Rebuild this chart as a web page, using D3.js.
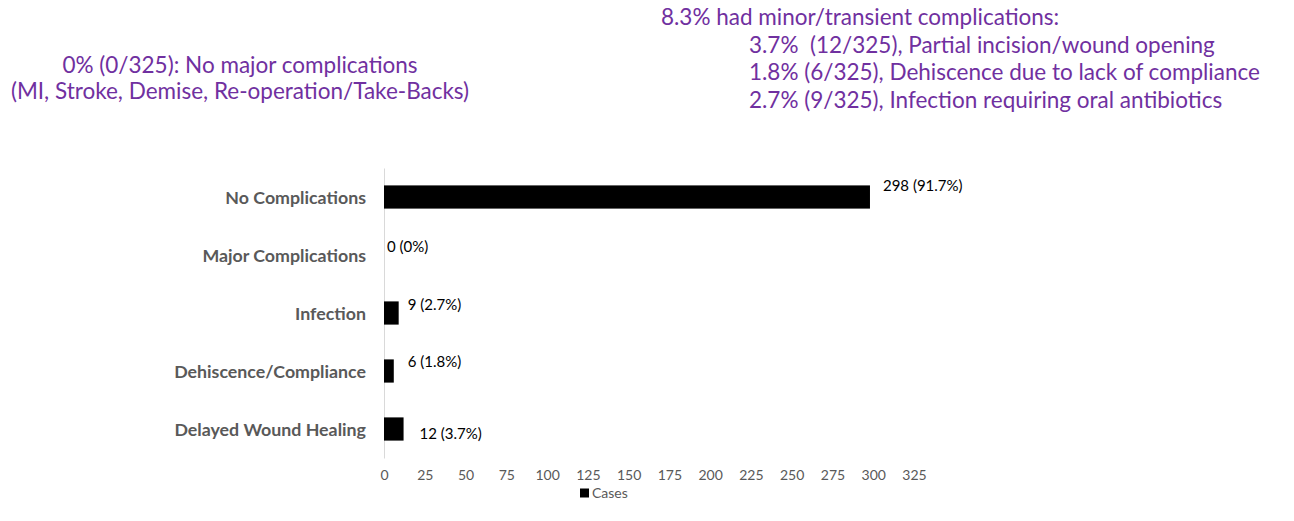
<!DOCTYPE html>
<html>
<head>
<meta charset="utf-8">
<script src="https://cdn.jsdelivr.net/npm/d3@7"></script>
<style>
  body { margin: 0; background: #fff; }
  svg { display: block; font-family: Lato, 'Open Sans', sans-serif; }
  svg text { font-family: Lato, 'Open Sans', sans-serif; }
  .note { fill: #7030a0; font-size: 22.5px; }
  .cat .tick text { fill: #595959; font-size: 17.8px; font-weight: bold; }
  .xax .tick text { fill: #595959; font-size: 14px; }
  .val { fill: #000; font-size: 15px; }
</style>
</head>
<body>
<div id="chart"></div>
<script>
var categories = ['No Complications', 'Major Complications', 'Infection', 'Dehiscence/Compliance', 'Delayed Wound Healing'];
var cases = [298, 0, 9, 6, 12];
var valueLabels = ['298 (91.7%)', '0 (0%)', '9 (2.7%)', '6 (1.8%)', '12 (3.7%)'];
var xTicks = [0, 25, 50, 75, 100, 125, 150, 175, 200, 225, 250, 275, 300, 325];
var leftNote = ['0% (0/325): No major complications', '(MI, Stroke, Demise, Re-operation/Take-Backs)'];
var rightNote = ['8.3% had minor/transient complications:',
    '3.7%  (12/325), Partial incision/wound opening',
    '1.8% (6/325), Dehiscence due to lack of compliance',
    '2.7% (9/325), Infection requiring oral antibiotics'];
var seriesName = 'Cases';

// label nudges as placed in the original (dx, dy from bar end / band centre)
var labelNudge = [[13, -11], [3, -8], [9, -8], [14, -9], [16, 5]];

var width = 1294, height = 521;

var svg = d3.select('#chart')
    .append('svg')
    .attr('width', width)
    .attr('height', height);

var x = d3.scaleLinear().domain([0, 325]).range([384, 914]);
var y = d3.scaleBand().domain(categories).range([168, 458])
    .paddingInner(0.6).paddingOuter(0.3);

// notes at the top
leftNote.forEach(function (t, i) {
    svg.append('text').attr('class', 'note')
        .attr('text-anchor', 'middle')
        .attr('x', 240).attr('y', 73 + i * 26)
        .text(t);
});

rightNote.forEach(function (t, i) {
    svg.append('text').attr('class', 'note')
        .attr('x', i === 0 ? 661 : 749)
        .attr('y', 25 + i * 27.7)
        .attr('xml:space', 'preserve')
        .style('white-space', 'pre')
        .text(t);
});

// category axis
var yAxis = d3.axisLeft(y).tickSize(0).tickPadding(18);
svg.append('g')
    .attr('class', 'cat')
    .attr('transform', 'translate(' + x(0) + ',0)')
    .call(yAxis)
    .call(function (g) { g.select('.domain').attr('stroke', '#d9d9d9'); })
    .selectAll('.tick text').attr('dy', '0.4em');

// value axis (labels only)
var xAxis = d3.axisBottom(x).tickValues(xTicks).tickSize(0).tickPadding(12);
svg.append('g')
    .attr('class', 'xax')
    .attr('transform', 'translate(0,' + 458 + ')')
    .call(xAxis)
    .call(function (g) { g.select('.domain').remove(); });

// bars
svg.append('g').selectAll('rect')
    .data(cases)
    .enter().append('rect')
    .attr('x', x(0))
    .attr('y', function (d, i) { return y(categories[i]); })
    .attr('width', function (d) { return x(d) - x(0); })
    .attr('height', y.bandwidth())
    .attr('fill', '#000');

// value labels
svg.append('g').selectAll('text')
    .data(cases)
    .enter().append('text')
    .attr('class', 'val')
    .attr('x', function (d, i) { return x(d) + labelNudge[i][0]; })
    .attr('y', function (d, i) { return y(categories[i]) + y.bandwidth() / 2 + labelNudge[i][1]; })
    .attr('dy', '0.35em')
    .text(function (d, i) { return valueLabels[i]; });

// legend
var lg = svg.append('g').attr('transform', 'translate(580,493)');
lg.append('rect').attr('x', 0).attr('y', -4.5).attr('width', 9).attr('height', 9).attr('fill', '#000');
lg.append('text').attr('x', 12).attr('dy', '0.35em')
    .style('font-size', '14px').attr('fill', '#595959').text(seriesName);
</script>
</body>
</html>
